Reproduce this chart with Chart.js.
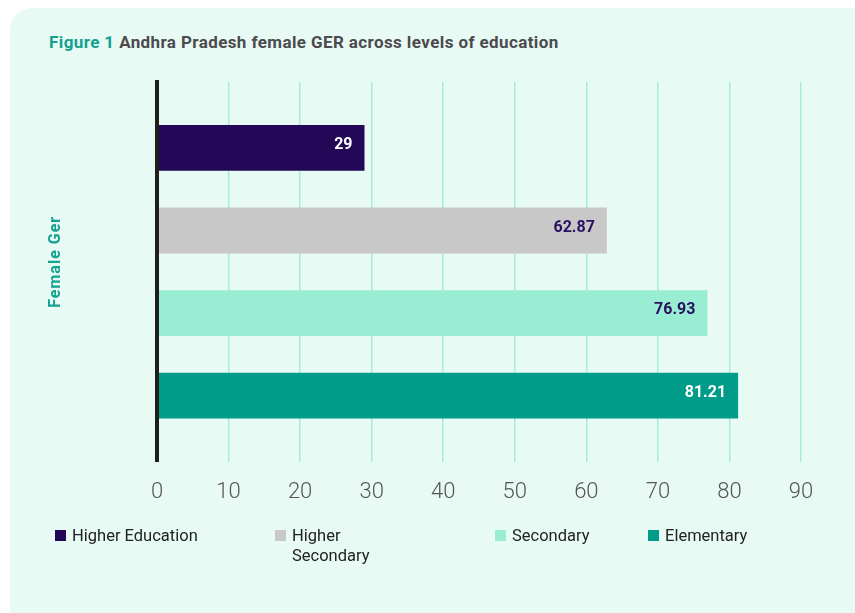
<!DOCTYPE html>
<html>
<head>
<meta charset="utf-8">
<script src="https://cdn.jsdelivr.net/npm/chart.js@4.4.1/dist/chart.umd.min.js"></script>
<style>
  html, body { margin: 0; padding: 0; background: #ffffff; }
  body { width: 855px; height: 613px; position: relative; overflow: hidden; font-family: Roboto, "Noto Sans", sans-serif; }
  .panel {
    position: absolute; left: 10px; top: 8px; width: 845px; height: 605px;
    background: #e8faf4; border-top-left-radius: 22px;
  }
  .title {
    position: absolute; left: 49px; top: 32px; font-size: 17px; font-weight: 700;
    letter-spacing: 0.4px; color: #4b4b4e; white-space: nowrap;
  }
  .title .fig { color: #14a18f; }
  #chart { position: absolute; left: 0; top: 0; }
  .legend { position: absolute; left: 55px; top: 526px; }
  .legend-item { position: absolute; top: 0; display: flex; align-items: flex-start; font-size: 16.5px; color: #222; line-height: 20px; }
  .legend-item .box { width: 11px; height: 11px; margin-top: 4px; margin-right: 6px; flex: none; }
</style>
</head>
<body>
<div class="panel"></div>
<div class="title"><span class="fig">Figure 1</span> Andhra Pradesh female GER across levels of education</div>
<canvas id="chart" width="855" height="613"></canvas>
<div class="legend" id="legend"></div>
<script>
// data
const categories = ['Female Ger'];
const seriesNames = ['Higher Education', 'Higher Secondary', 'Secondary', 'Elementary'];
const seriesValues = [29, 62.87, 76.93, 81.21];
const xTicks = [0, 10, 20, 30, 40, 50, 60, 70, 80, 90];

const barColors = ['#220856', '#c8c8c8', '#98edd2', '#009c8a'];
const labelColors = ['#ffffff', '#2a1060', '#2a1060', '#ffffff'];

// value labels drawn inside the bar end
const valueLabels = {
  id: 'valueLabels',
  afterDatasetsDraw(chart) {
    const ctx = chart.ctx;
    ctx.save();
    ctx.font = 'bold 16px Roboto, "Noto Sans", sans-serif';
    ctx.textAlign = 'right';
    ctx.textBaseline = 'middle';
    chart.data.datasets.forEach((ds, i) => {
      const meta = chart.getDatasetMeta(i);
      meta.data.forEach((bar, j) => {
        ctx.fillStyle = labelColors[i];
        ctx.fillText(String(ds.data[j]), bar.x - 12, bar.y - 3);
      });
    });
    ctx.restore();
  }
};

// rotated category name on the left, far from the axis like the original
const categoryTitle = {
  id: 'categoryTitle',
  afterDraw(chart) {
    const ctx = chart.ctx;
    const area = chart.chartArea;
    ctx.save();
    ctx.translate(56, (area.top + area.bottom) / 2 - 10);
    ctx.rotate(-Math.PI / 2);
    ctx.font = 'bold 16px Roboto, "Noto Sans", sans-serif';
    if ('letterSpacing' in ctx) ctx.letterSpacing = '1px';
    ctx.fillStyle = '#15a390';
    ctx.textAlign = 'center';
    ctx.textBaseline = 'middle';
    ctx.fillText(categories[0], 0, 0);
    ctx.restore();
  }
};

const datasets = seriesNames.map((name, i) => ({
  label: name,
  data: [seriesValues[i]],
  backgroundColor: barColors[i],
  borderWidth: 0,
  barPercentage: 0.555,
  categoryPercentage: 0.87
}));

new Chart(document.getElementById('chart'), {
  type: 'bar',
  data: { labels: categories, datasets },
  plugins: [valueLabels, categoryTitle],
  options: {
    indexAxis: 'y',
    responsive: false,
    animation: false,
    layout: { padding: { left: 157, right: 54, top: 82, bottom: 89 } },
    plugins: { legend: { display: false }, tooltip: { enabled: false } },
    scales: {
      x: {
        min: 0,
        max: 90,
        afterBuildTicks: (axis) => { axis.ticks = xTicks.map((v) => ({ value: v })); },
        grid: { color: '#a6edd5', lineWidth: 1.5, drawTicks: false },
        border: { display: false },
        ticks: { color: '#555555', padding: 18, font: { family: 'Roboto', size: 22, weight: '300' } }
      },
      y: {
        grid: { display: false, drawTicks: false },
        border: { display: true, color: '#1e1e1a', width: 4, z: 1 },
        ticks: { display: false }
      }
    }
  }
});

// html legend (second label wraps like the original)
const legendLeft = [0, 220, 440, 593];
const legendWidth = [200, 110, 150, 150];
const legend = document.getElementById('legend');
seriesNames.forEach((name, i) => {
  const item = document.createElement('div');
  item.className = 'legend-item';
  item.style.left = legendLeft[i] + 'px';
  const box = document.createElement('span');
  box.className = 'box';
  box.style.background = barColors[i];
  const txt = document.createElement('span');
  txt.textContent = name;
  txt.style.width = legendWidth[i] + 'px';
  item.appendChild(box);
  item.appendChild(txt);
  legend.appendChild(item);
});
</script>
</body>
</html>
